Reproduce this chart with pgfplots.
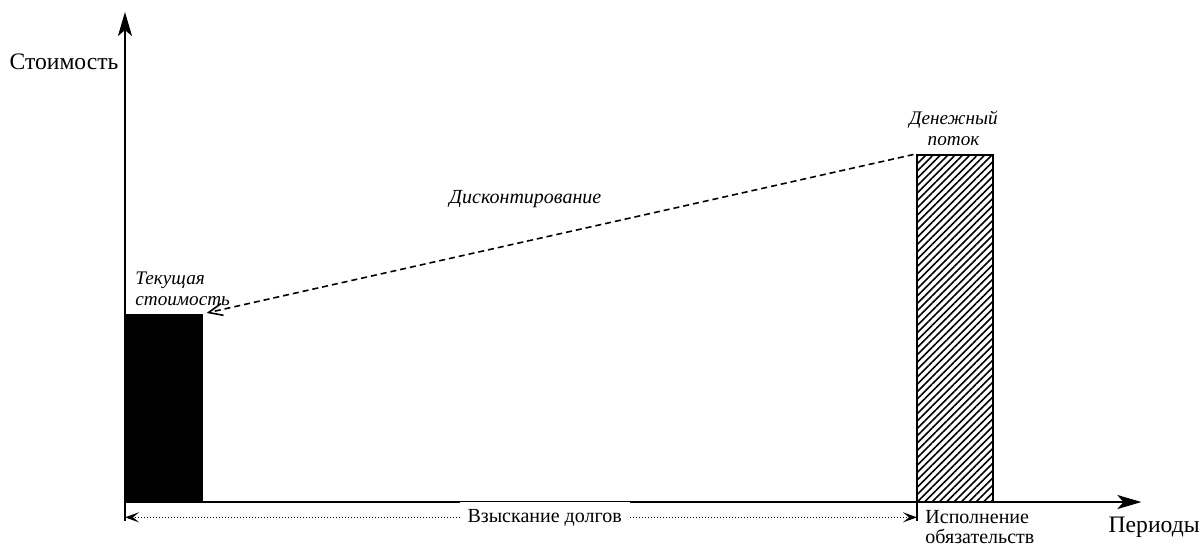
\documentclass[border=0pt]{standalone}
\usepackage{fontspec}
\setmainfont{Liberation Serif}
\usepackage{pgfplots}
\pgfplotsset{compat=1.18}
\usetikzlibrary{arrows.meta,patterns.meta}
\begin{document}
\begin{tikzpicture}
\begin{axis}[
    scale only axis,
    width=508.2pt, height=245pt,
    xmin=0, xmax=13.2,
    ymin=0, ymax=141,
    axis lines=left,
    axis line style={line width=1.1pt, -{Stealth[length=12pt,width=7pt,inset=3pt]}},
    xtick=\empty, ytick=\empty,
    clip=false,
]
% present value bar
\addplot[draw=black, fill=black] coordinates {(0,0) (0,54) (1,54) (1,0)} -- cycle;
% cash flow bar
\addplot[draw=black, line width=1pt,
    pattern={Lines[angle=45,distance=2.6pt,line width=0.8pt]}]
    coordinates {(10.286,0) (10.286,100) (11.27,100) (11.27,0)} -- cycle;
% discounting arrow
\addplot[black, line width=0.8pt, dash pattern=on 3pt off 2pt,
    -{Straight Barb[length=7pt,width=6pt]}]
    coordinates {(10.24,100) (1.06,54.4)};
% period markers under the axis
\addplot[black, line width=0.8pt] coordinates {(0,0) (0,-5.5)};
\addplot[black, line width=0.8pt] coordinates {(10.286,0) (10.286,-5.5)};
% debt collection interval
\addplot[black, line width=0.8pt, dash pattern=on 0.6pt off 0.9pt,
    {Stealth[length=7pt,width=5pt,inset=3pt]}-{Stealth[length=7pt,width=5pt,inset=3pt]}]
    coordinates {(0,-4.4) (10.286,-4.4)};
\node[fill=white, inner sep=4pt, font=\fontsize{10}{12}\selectfont] at (axis cs:5.45,-4.6) {Взыскание долгов};

\node[anchor=east, inner sep=0pt, font=\fontsize{11.8}{13}\selectfont] at (axis cs:-0.08,126.6) {Стоимость};
\node[anchor=west, inner sep=0pt, font=\fontsize{11.8}{13}\selectfont] at (axis cs:12.77,-7.2) {Периоды};
\node[anchor=north west, align=left, inner sep=0pt, font=\fontsize{10}{10.2}\selectfont] at (axis cs:10.39,-2.2) {Исполнение\\обязательств};

\node[align=left, inner sep=0pt, font=\itshape\fontsize{9.6}{10.5}\selectfont, anchor=south west] at (axis cs:0.13,56.5) {Текущая\\стоимость};
\node[align=center, inner sep=0pt, font=\itshape\fontsize{9.6}{10.5}\selectfont, anchor=south] at (axis cs:10.76,102.5) {Денежный\\поток};
\node[font=\itshape\fontsize{10}{12}\selectfont] at (axis cs:5.2,87.2) {Дисконтирование};

\coordinate (tl) at (axis cs:-1.623,144.46);
\coordinate (br) at (axis cs:14.013,-12.09);
\end{axis}
\pgfresetboundingbox
\useasboundingbox (tl) rectangle (br);
\end{tikzpicture}
\end{document}
